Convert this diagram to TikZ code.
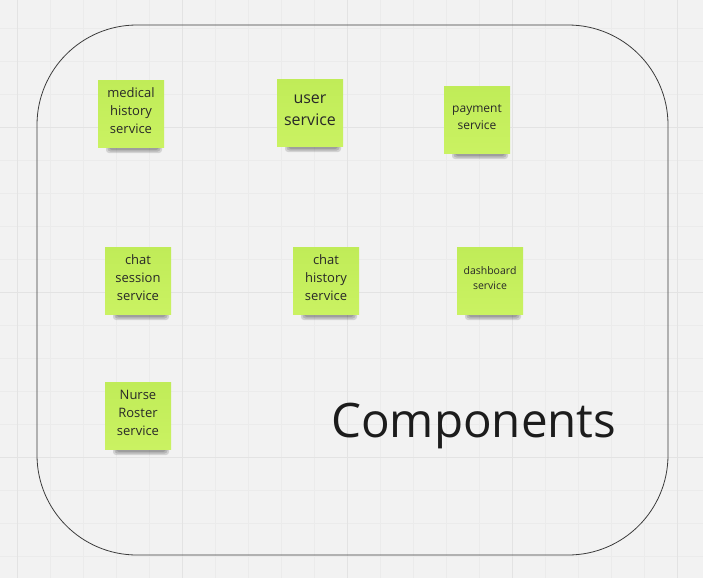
\documentclass[tikz,border=0pt]{standalone}
\usepackage{fontspec}
\setmainfont{Open Sans}
\definecolor{bgcol}{RGB}{242,242,242}
\definecolor{gridminor}{RGB}{235,235,235}
\definecolor{gridmajor}{RGB}{227,227,227}
\definecolor{notetop}{RGB}{192,236,88}
\definecolor{notebot}{RGB}{202,242,98}
\definecolor{notetext}{RGB}{40,40,40}
\definecolor{framecol}{RGB}{60,60,60}
\definecolor{titlecol}{RGB}{28,28,28}
\tikzset{
  stickyfill/.style={top color=notetop, bottom color=notebot},
  stickytext/.style={inner sep=0pt, align=center, text=notetext},
  framebox/.style={draw=framecol, line width=0.8pt, rounded corners=100pt, minimum width=631pt, minimum height=530pt, inner sep=0pt},
}
\newcommand\stickynote[6]{% name, x, y, fontsize, baselineskip, text
  \foreach \s in {0,1.5,3}{%
    \fill[black,opacity=0.13,rounded corners=3pt] (#2+8+\s,#3+58) rectangle (#2+64-\s,#3+73-\s);
  }
  \path[stickyfill] (#2,#3) rectangle (#2+66,#3+67);
  \node[stickytext, font=\fontsize{#4}{#5}\selectfont] (#1) at (#2+33,#3+31) {#6};
}
\begin{document}
\begin{tikzpicture}[x=1pt,y=-1pt]
  \useasboundingbox (0,0) rectangle (703,578);
  \fill[bgcol] (0,0) rectangle (703,578);
  \foreach \i in {0,...,21}{
    \draw[gridminor, line width=0.6pt] (17+33*\i,0) -- (17+33*\i,578);
  }
  \foreach \i in {0,...,17}{
    \draw[gridminor, line width=0.6pt] (0,28+33*\i) -- (703,28+33*\i);
  }
  \foreach \xx in {17,182,347,512,677}{
    \draw[gridmajor, line width=0.8pt] (\xx,0) -- (\xx,578);
  }
  \foreach \yy in {127,292,457}{
    \draw[gridmajor, line width=0.8pt] (0,\yy) -- (703,\yy);
  }
  \node[framebox] (frame) at (352.5,290) {};
  \stickynote{medical}{98}{80}{13}{18}{medical\\history\\service}
  \stickynote{user}{277}{79}{16}{22}{user\\service}
  \stickynote{payment}{444}{86}{12}{17}{payment\\service}
  \stickynote{chatsession}{105}{247}{13}{18}{chat\\session\\service}
  \stickynote{chathistory}{293}{247}{13}{18}{chat\\history\\service}
  \stickynote{dashboard}{457}{247}{10.5}{15}{dashboard\\service}
  \stickynote{nurse}{105}{382}{13}{18}{Nurse\\Roster\\service}
  \node[anchor=base west, inner sep=0pt, text=titlecol, font=\fontsize{47.5}{56}\selectfont] (title) at (331,437) {Components};
\end{tikzpicture}
\end{document}
